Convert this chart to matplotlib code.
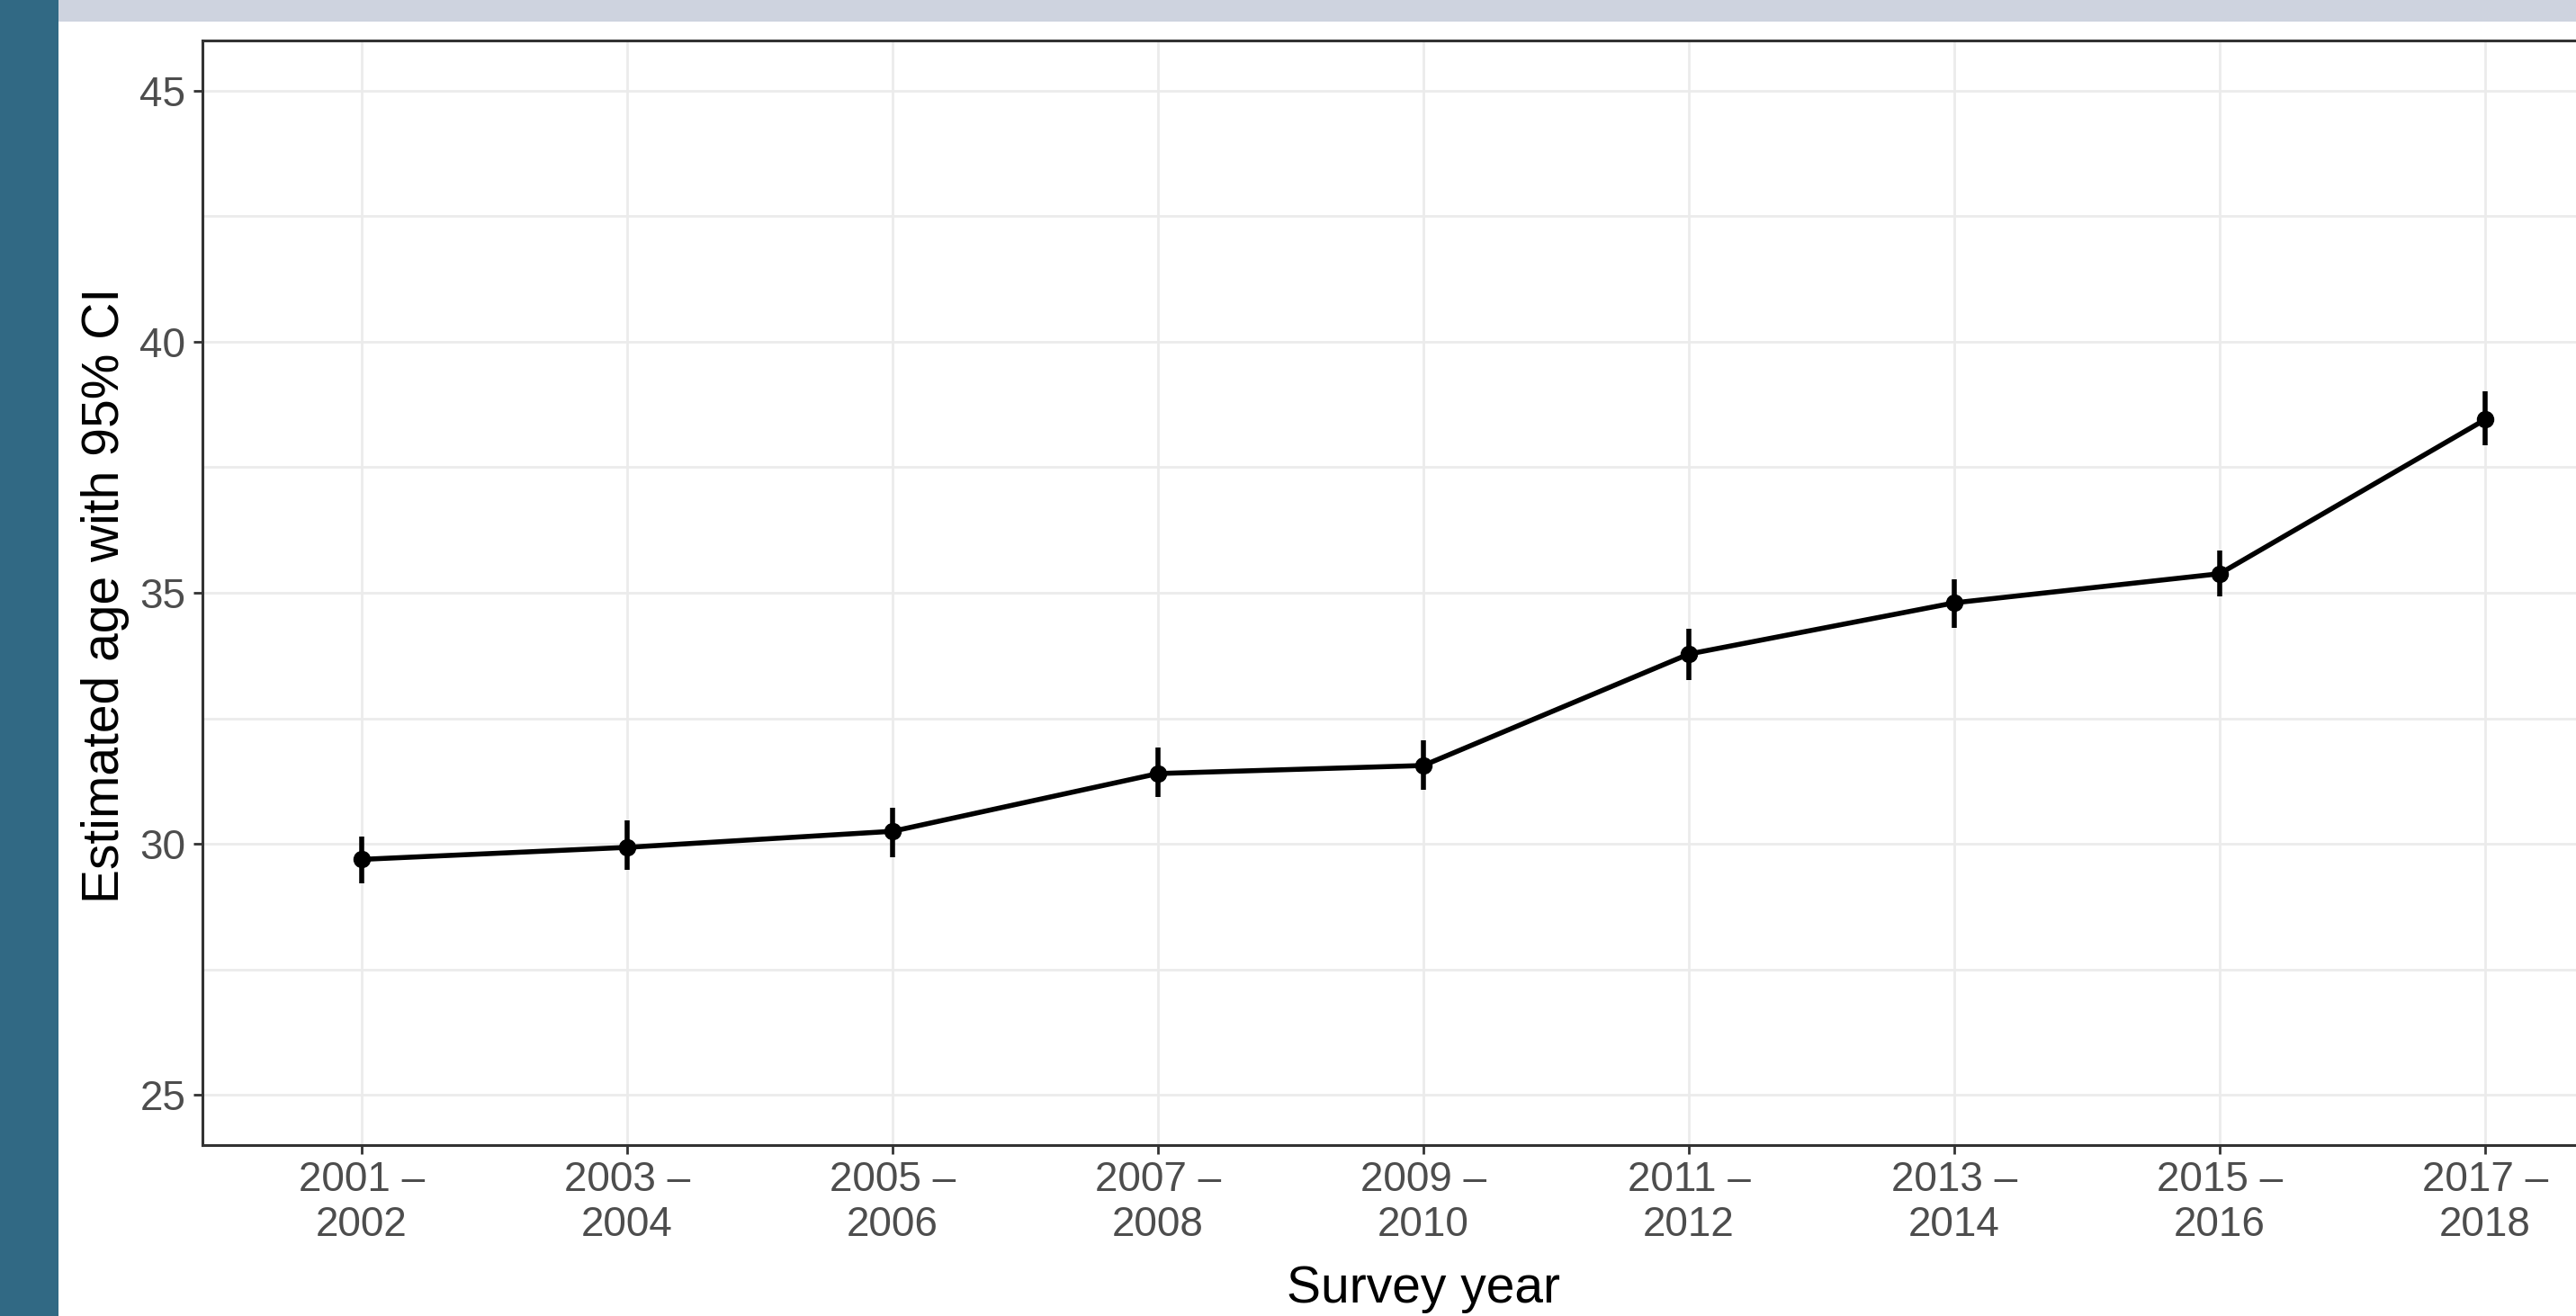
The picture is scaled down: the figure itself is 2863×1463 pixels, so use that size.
import numpy as np
import matplotlib.pyplot as plt
from matplotlib.patches import Rectangle

plt.rcParams["font.family"] = ["Liberation Sans", "DejaVu Sans"]

W, H, DPI = 2863, 1463, 100

periods = ["2001 –\n2002", "2003 –\n2004", "2005 –\n2006", "2007 –\n2008",
           "2009 –\n2010", "2011 –\n2012", "2013 –\n2014", "2015 –\n2016",
           "2017 –\n2018"]
age_est = [29.69, 29.93, 30.25, 31.40, 31.56, 33.78, 34.80, 35.38, 38.45]
ci_low = [29.21, 29.48, 29.73, 30.93, 31.07, 33.26, 34.30, 34.92, 37.93]
ci_high = [30.14, 30.47, 30.71, 31.91, 32.07, 34.28, 35.27, 35.85, 39.01]
y_major = [25, 30, 35, 40, 45]
y_minor = [27.5, 32.5, 37.5, 42.5]

GRID = "#EBEBEB"
FRAME = "#333333"
TICKTXT = "#4D4D4D"

fig = plt.figure(figsize=(W / DPI, H / DPI), dpi=DPI)
fig.patch.set_facecolor("white")

# page chrome: side bar and top strip
fig.add_artist(Rectangle((0, 0), 65 / W, 1, transform=fig.transFigure,
                         facecolor="#316984", edgecolor="none", zorder=0))
fig.add_artist(Rectangle((65 / W, 1 - 24 / H), 1, 24 / H, transform=fig.transFigure,
                         facecolor="#CED3DF", edgecolor="none", zorder=0))

# panel runs past the right edge of the canvas
left, right, top, bottom = 225, 2939, 45, 1273
ax = fig.add_axes([left / W, 1 - bottom / H, (right - left) / W, (bottom - top) / H])

x = np.arange(len(periods))
err = [np.array(age_est) - np.array(ci_low), np.array(ci_high) - np.array(age_est)]
ax.plot(x, age_est, color="black", lw=4.0, zorder=3, solid_capstyle="butt")
ax.errorbar(x, age_est, yerr=err, fmt="o", color="black", ms=13, elinewidth=4.0,
            capsize=0, zorder=4)

ax.set_xlim(-0.6, len(periods) - 1 + 0.6)
ax.set_ylim(24, 46)
ax.set_xticks(x)
ax.set_xticklabels(periods, fontsize=33, color=TICKTXT, linespacing=1.2)
ax.set_yticks(y_major)
ax.set_yticklabels([str(v) for v in y_major], fontsize=33, color=TICKTXT)
ax.set_yticks(y_minor, minor=True)

ax.grid(True, which="major", color=GRID, lw=2.0, zorder=0)
ax.grid(True, which="minor", axis="y", color=GRID, lw=2.0, zorder=0)
ax.set_axisbelow(True)

ax.tick_params(axis="both", which="major", length=7, width=2.0, color=FRAME)
ax.tick_params(axis="x", pad=5)
ax.tick_params(axis="y", pad=6.5)
ax.tick_params(axis="y", which="minor", length=0)
for s in ax.spines.values():
    s.set_color(FRAME)
    s.set_linewidth(2.2)

fig.text(117 / W, 1 - 662 / H, "Estimated age with 95% CI", rotation=90,
         ha="center", va="center", fontsize=41, color="black")
fig.text(1582 / W, 1 - 1448 / H, "Survey year", ha="center", va="baseline",
         fontsize=41, color="black")

fig.savefig("out.png", dpi=DPI)
